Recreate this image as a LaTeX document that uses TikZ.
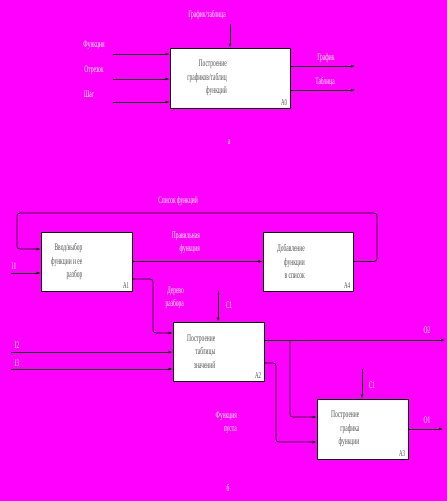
\documentclass[tikz,border=0pt]{standalone}
\usepackage{fontspec}
\usepackage{graphicx}
\setmainfont{Liberation Serif}
\usetikzlibrary{arrows.meta, positioning, calc}
\definecolor{fondo}{HTML}{FF00FF}
\definecolor{grisTexto}{HTML}{505050}
\newcommand{\nrw}[1]{\scalebox{0.55}[1]{#1}}

\begin{document}
\begin{tikzpicture}[
        x=1pt, y=-1pt,
        blk/.style={draw=black, fill=white, line width=0.8pt, inner sep=0pt},
        txt/.style={text=grisTexto, align=right, inner sep=0pt,
            font=\fontsize{10}{13.5}\selectfont},
        num/.style={text=grisTexto, inner sep=3pt, font=\fontsize{9}{10}\selectfont},
        lbl/.style={text=white, align=right, inner sep=0pt,
            font=\fontsize{10}{13.5}\selectfont},
        flow/.style={-{Latex[length=4pt, width=3pt]}, black, line width=0.7pt, rounded corners=3pt}
    ]
        % fondo y margenes
        \fill[fondo] (0,0) rectangle (447,501);
        \useasboundingbox (0,0) rectangle (447,501);

        % ---- diagrama a ----
        \node[blk, minimum width=120, minimum height=60] (a0) at (230,78) {};
        \node[txt, anchor=east] at ($(a0.center)+(-3,0)$) {\nrw{Построение}\\\nrw{графиков/таблиц}\\\nrw{функций}};
        \node[num, anchor=south east] at (a0.south east) {\nrw{A0}};

        \coordinate (c0) at (230,24);
        \coordinate (i01) at (113,54);
        \coordinate (i02) at (113,79);
        \coordinate (i03) at (113,102);
        \coordinate (o01) at (355,66);
        \coordinate (o02) at (355,90);

        \draw[flow] (c0) -- (a0.north);
        \draw[flow] (i01) -- (i01 -| a0.west);
        \draw[flow] (i02) -- (i02 -| a0.west);
        \draw[flow] (i03) -- (i03 -| a0.west);
        \draw[flow] (o01 -| a0.east) -- (o01);
        \draw[flow] (o02 -| a0.east) -- (o02);

        \node[lbl] at (207,15) {\nrw{График/таблица}};
        \node[lbl] at (94,45) {\nrw{Функция}};
        \node[lbl] at (94,70) {\nrw{Отрезок}};
        \node[lbl] at (89,94) {\nrw{Шаг}};
        \node[lbl] at (326,58) {\nrw{График}};
        \node[lbl] at (325,82) {\nrw{Таблица}};
        \node[lbl] at (229,142) {\nrw{а}};

        % ---- diagrama b ----
        \node[blk, minimum width=91, minimum height=59] (a1) at (86.5,261.5) {};
        \node[blk, minimum width=90, minimum height=59] (a4) at (308,261.5) {};
        \node[blk, minimum width=91, minimum height=59] (a2) at (218.5,351.5) {};
        \node[blk, minimum width=91, minimum height=60] (a3) at (362.5,429) {};

        \node[txt, anchor=east] at ($(a1.center)+(-4,0)$) {\nrw{Ввод/выбор}\\\nrw{функции и ее}\\\nrw{разбор}};
        \node[txt, anchor=east] at ($(a4.center)+(-3,0)$) {\nrw{Добавление}\\\nrw{функции}\\\nrw{в список}};
        \node[txt, anchor=east] at ($(a2.center)+(-3,0)$) {\nrw{Построение}\\\nrw{таблицы}\\\nrw{значений}};
        \node[txt, anchor=east] at ($(a3.center)+(-3,0)$) {\nrw{Построение}\\\nrw{графика}\\\nrw{функции}};
        \node[num, anchor=south east] at (a1.south east) {\nrw{A1}};
        \node[num, anchor=south east] at (a4.south east) {\nrw{A4}};
        \node[num, anchor=south east] at (a2.south east) {\nrw{A2}};
        \node[num, anchor=south east] at (a3.south east) {\nrw{A3}};

        \coordinate (i1) at (11,273);
        \coordinate (i2) at (11,352);
        \coordinate (i3) at (11,369);
        \coordinate (c1) at (218,291);
        \coordinate (c2) at (362,369);
        \coordinate (o2) at (445,340);
        \coordinate (o1) at (443,429);

        \draw[flow] (a4.east) -- (377,261.5) -- (377,213) -- (17,213) -- (17,249) -- (a1.west |- 0,249);
        \draw[flow] (a1.east) -- (a4.west);
        \draw[flow] (i1) -- (i1 -| a1.west);
        \draw[flow] (a1.east |- 0,279) -- (153,279) -- (153,333) -- (a2.west |- 0,333);
        \draw[flow] (c1) -- (c1 |- a2.north);
        \draw[flow] (i2) -- (i2 -| a2.west);
        \draw[flow] (i3) -- (i3 -| a2.west);
        \draw[flow] (o2 -| a2.east) -- (o2);
        \draw[flow] (290,340) -- (290,417) -- (a3.west |- 0,417);
        \draw[flow] (a2.east |- 0,363) -- (276,363) -- (276,442) -- (a3.west |- 0,442);
        \draw[flow] (c2) -- (c2 |- a3.north);
        \draw[flow] (o1 -| a3.east) -- (o1);

        \node[lbl] at (178,201) {\nrw{Список функций}};
        \node[lbl, anchor=east] at (200,243) {\nrw{Правильная}\\\nrw{функция}};
        \node[lbl, anchor=east] at (184,298) {\nrw{Дерево}\\\nrw{разбора}};
        \node[lbl, anchor=east] at (237,423) {\nrw{Функция}\\\nrw{пуста}};
        \node[lbl] at (14,266) {\nrw{I1}};
        \node[lbl] at (229,305) {\nrw{C1}};
        \node[lbl] at (17,345) {\nrw{I2}};
        \node[lbl] at (17,363) {\nrw{I3}};
        \node[lbl] at (427,330) {\nrw{O2}};
        \node[lbl] at (372,385) {\nrw{C1}};
        \node[lbl] at (427,420) {\nrw{O1}};
        \node[lbl] at (228,488) {\nrw{б}};
    \end{tikzpicture}
\end{document}
